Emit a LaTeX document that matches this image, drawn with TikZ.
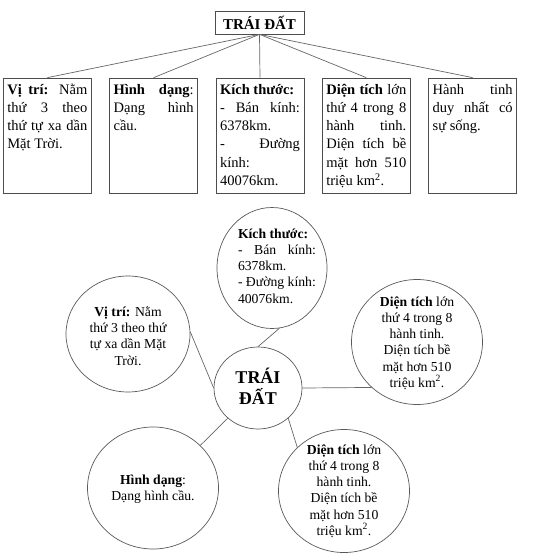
\documentclass[tikz,border=0pt]{standalone}
\usepackage{fontspec}
\setmainfont{Liberation Serif}
\usetikzlibrary{shapes.geometric}
\hyphenpenalty=10000
\exhyphenpenalty=10000
\hbadness=10000
\begin{document}
\begin{tikzpicture}[x=1pt,y=-1pt,
  linec/.style={draw=black!60, line width=0.7pt},
  titlebox/.style={linec, draw=black!70, minimum width=89pt, minimum height=23pt, inner sep=0pt,
    font=\fontsize{15pt}{18pt}\selectfont\bfseries},
  tbox/.style={linec, draw=black!70, minimum width=88pt, minimum height=115pt, inner sep=0pt,
    font=\fontsize{14.5pt}{18.3pt}\selectfont},
  bub/.style={ellipse, linec, draw=black!65, inner sep=0pt},
  btxt/.style={inner sep=0pt, align=center, font=\fontsize{13.7pt}{16.2pt}\selectfont},
  conn/.style={linec}
]
\useasboundingbox (0,0) rectangle (553,555);
\newcommand{\boxtext}[1]{\parbox[c][115pt][t]{80pt}{\rule{0pt}{16pt}#1}}

% ---------- top tree ----------
\node[titlebox] (title) at (259.5,22.5) {TRÁI ĐẤT};
\node[tbox] (b1) at (47.3,135.5) {\boxtext{\textbf{Vị trí:} Nằm\linebreak thứ 3 theo\linebreak thứ tự xa dần\linebreak Mặt Trời.}};
\node[tbox] (b2) at (153.6,135.5) {\boxtext{\textbf{Hình dạng}:\linebreak Dạng hình\linebreak cầu.}};
\node[tbox] (b3) at (260,135.5) {\boxtext{\textbf{Kích thước:}\newline - Bán kính:\linebreak 6378km.\newline - Đường\linebreak kính:\newline 40076km.}};
\node[tbox] (b4) at (366.3,135.5) {\boxtext{\textbf{Diện tích} lớn\linebreak thứ 4 trong 8\linebreak hành tinh.\linebreak Diện tích bề\linebreak mặt hơn 510\linebreak triệu km\textsuperscript{2}.}};
\node[tbox] (b5) at (472.7,135.5) {\boxtext{Hành tinh\linebreak duy nhất có\linebreak sự sống.}};
\foreach \b in {b1,b2,b3,b4,b5}
  \draw[conn] (title.south) -- (\b.north);

% ---------- bubble diagram ----------
\node[bub, minimum width=88pt, minimum height=82pt] (c) at (258,388) {};
\node[inner sep=0pt, align=center, font=\fontsize{18pt}{21pt}\selectfont\bfseries] (ct) at (258,386) {TRÁI\\ĐẤT};

\node[bub, minimum width=110pt, minimum height=121pt] (kt) at (272,268) {};
\node[inner sep=0pt, font=\fontsize{13.7pt}{16.2pt}\selectfont] (ktt) at (277,266)
  {\parbox{78pt}{\textbf{Kích thước:}\newline - Bán kính:\linebreak 6378km.\newline - Đường kính:\newline 40076km.}};

\node[bub, minimum width=124pt, minimum height=116pt] (vt) at (128,334) {};
\node[btxt] (vtt) at (128,336) {\textbf{Vị trí:} Nằm\\thứ 3 theo thứ\\tự xa dần Mặt\\Trời.};

\node[bub, minimum width=131pt, minimum height=125pt] (d1) at (417,342) {};
\node[btxt] (d1t) at (417,343) {\textbf{Diện tích} lớn\\thứ 4 trong 8\\hành tinh.\\Diện tích bề\\mặt hơn 510\\triệu km\textsuperscript{2}.};

\node[bub, minimum width=131pt, minimum height=122pt] (hd) at (153,488) {};
\node[btxt] (hdt) at (153,489) {\textbf{Hình dạng}:\\Dạng hình cầu.};

\node[bub, minimum width=131pt, minimum height=123pt] (d2) at (344,491) {};
\node[btxt] (d2t) at (344,491) {\textbf{Diện tích} lớn\\thứ 4 trong 8\\hành tinh.\\Diện tích bề\\mặt hơn 510\\triệu km\textsuperscript{2}.};

\draw[conn] (kt.277) -- (c.90);
\draw[conn] (vt.2) -- (c.180);
\draw[conn] (c.0) -- (d1.225);
\draw[conn] (hd.42) -- (c.225);
\draw[conn] (c.315) -- (d2.137);
\end{tikzpicture}
\end{document}
